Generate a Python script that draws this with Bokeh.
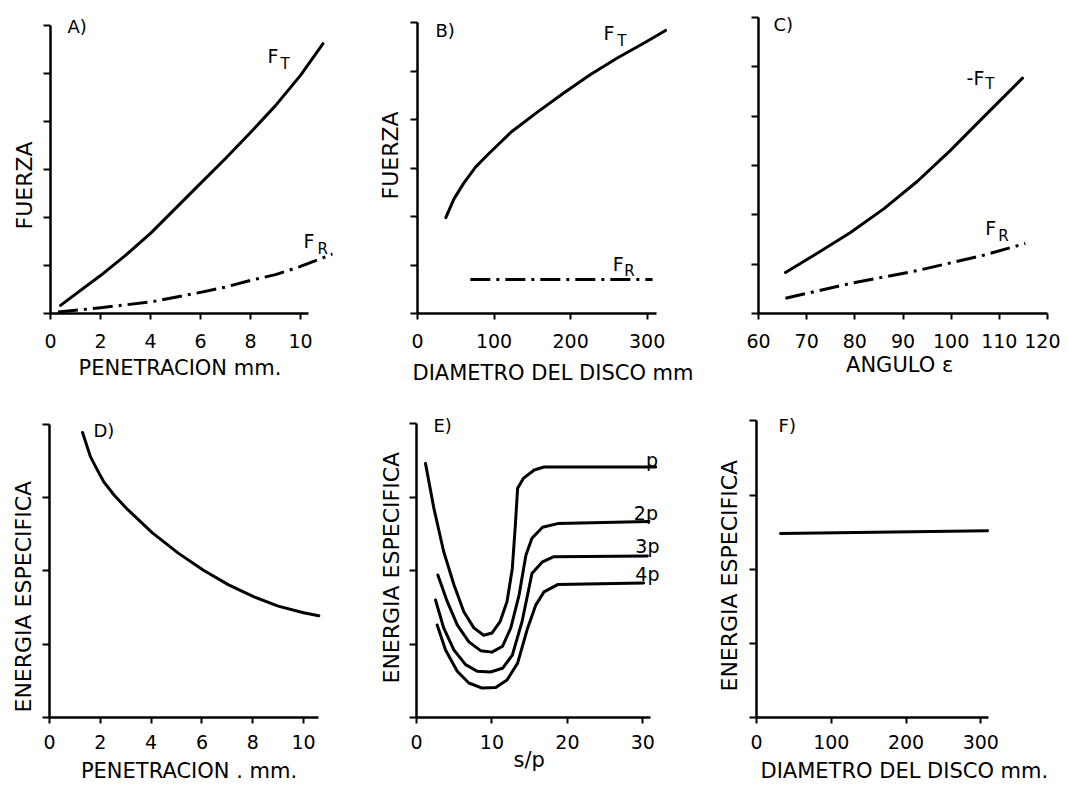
import math
from bokeh.plotting import figure
from bokeh.layouts import row, column
from bokeh.models import Range1d, FixedTicker, Label, CustomJSTickFormatter, Title
from bokeh.embed import file_html
from bokeh.resources import INLINE

FONT = "DejaVu Sans"

# ---------------- data ----------------
# A) Fuerza vs penetracion
pen_a_t = [0.4, 2, 3, 4, 5, 6, 7, 8, 9, 10, 10.9]
ft_a = [0.17, 0.79, 1.21, 1.67, 2.19, 2.71, 3.23, 3.77, 4.33, 4.96, 5.62]
pen_a_r = [0.3, 2, 4, 6, 7, 8, 9, 10, 11.3]
fr_a = [0.03, 0.12, 0.24, 0.44, 0.55, 0.69, 0.81, 0.98, 1.24]
ticks_a = [0, 2, 4, 6, 8, 10]

# B) Fuerza vs diametro del disco
diam_b_t = [37, 47.5, 60, 75.8, 92, 122, 157, 191, 226, 261, 296, 324]
ft_b = [1.98, 2.36, 2.68, 3.02, 3.28, 3.74, 4.16, 4.55, 4.93, 5.27, 5.58, 5.84]
diam_b_r = [69, 307]
fr_b = [0.70, 0.70]
ticks_b = [0, 100, 200, 300]

# C) Fuerza vs angulo
ang_c_t = [65.6, 72.2, 79.1, 86.0, 93.0, 99.8, 106.7, 114.8]
ft_c = [0.83, 1.22, 1.64, 2.12, 2.68, 3.30, 3.98, 4.77]
ang_c_r = [65.6, 79.1, 93.0, 106.7, 115.4]
fr_c = [0.31, 0.61, 0.87, 1.18, 1.42]
ticks_c = [60, 70, 80, 90, 100, 110, 120]

# D) Energia especifica vs penetracion
pen_d = [1.3, 1.61, 1.88, 2.13, 2.53, 3.07, 4.05, 5.08, 6.06, 7.05, 8.03, 9.0, 10.0, 10.6]
esp_d = [3.89, 3.56, 3.38, 3.22, 3.04, 2.84, 2.52, 2.24, 2.01, 1.81, 1.65, 1.52, 1.43, 1.39]
ticks_d = [0, 2, 4, 6, 8, 10]

# E) Energia especifica vs s/p
sp_p = [1.19, 2.3, 3.6, 4.95, 6.27, 7.6, 8.9, 10.0, 11.1, 12.0, 12.7, 13.1, 13.4, 14.2, 15.6, 16.9, 31.7]
e_p = [3.46, 2.85, 2.26, 1.81, 1.44, 1.22, 1.12, 1.15, 1.31, 1.58, 2.03, 2.62, 3.12, 3.26, 3.37, 3.41, 3.41]
sp_2p = [2.83, 4.07, 5.4, 6.94, 8.5, 10.0, 11.4, 12.5, 13.6, 14.5, 15.3, 16.7, 18.7, 30.8]
e_2p = [1.94, 1.58, 1.26, 1.03, 0.91, 0.89, 0.97, 1.22, 1.67, 2.21, 2.44, 2.59, 2.64, 2.67]
sp_3p = [2.52, 3.6, 4.95, 6.5, 8.05, 9.8, 11.4, 12.7, 14.0, 14.9, 15.3, 16.7, 18.2, 30.6]
e_3p = [1.6, 1.22, 0.92, 0.72, 0.63, 0.62, 0.67, 0.85, 1.31, 1.76, 1.96, 2.12, 2.19, 2.2]
sp_4p = [2.74, 3.85, 5.4, 6.94, 8.7, 10.5, 12.0, 13.4, 14.7, 15.8, 16.9, 18.7, 30.1]
e_4p = [1.26, 0.92, 0.63, 0.47, 0.40, 0.41, 0.51, 0.74, 1.21, 1.53, 1.71, 1.81, 1.83]
ticks_e = [0, 10, 20, 30]

# F) Energia especifica vs diametro del disco
diam_f = [32, 309]
esp_f = [2.48, 2.52]
ticks_f = [0, 100, 200, 300]


def make_fig(width, height, xr, yr, borders, xticks, yticks, xbounds, ybounds, xstand):
    left, right, top, bottom = borders
    p = figure(width=width, height=height, x_range=Range1d(*xr), y_range=Range1d(*yr),
               output_backend="svg", toolbar_location=None,
               min_border_left=left, min_border_right=right,
               min_border_top=top, min_border_bottom=bottom)
    p.grid.visible = False
    p.outline_line_color = None
    p.background_fill_color = "white"
    p.border_fill_color = "white"
    p.xaxis.ticker = FixedTicker(ticks=xticks)
    p.yaxis.ticker = FixedTicker(ticks=yticks)
    p.xaxis.bounds = xbounds
    p.yaxis.bounds = ybounds
    for ax in p.axis:
        ax.axis_line_color = "black"
        ax.axis_line_width = 2.5
        ax.major_tick_line_color = "black"
        ax.major_tick_line_width = 2
        ax.major_tick_in = 0
        ax.minor_tick_in = 0
        ax.minor_tick_out = 0
        ax.major_label_text_font = FONT
        ax.major_label_text_color = "black"
        ax.major_label_text_font_size = "19px"
    p.xaxis.major_tick_out = 6
    p.xaxis.major_label_standoff = xstand
    p.yaxis.major_tick_out = 7
    p.yaxis.major_label_standoff = 0
    p.yaxis.formatter = CustomJSTickFormatter(code="return ''")
    return p


def lab(p, x, y, text, size=20):
    p.add_layout(Label(x=x, y=y, text=text, text_font=FONT, text_font_size=f"{size}px",
                       text_color="black", text_align="left", text_baseline="middle"))


def side_title(p, text, side, align, offset, standoff, size):
    p.add_layout(Title(text=text, align=align, offset=offset, standoff=standoff,
                       text_font=FONT, text_font_size=f"{size}px", text_font_style="normal",
                       text_color="black"), side)


def solid(p, xs, ys):
    p.line(xs, ys, line_color="black", line_width=3, line_join="round", line_cap="round")


def dashdot(p, xs, ys):
    p.line(xs, ys, line_color="black", line_width=3, line_dash="20 6 3 6", line_join="round")


TOP_H = 394
BOT_H = 393

# ---- A ----  (canvas x 0..366)
pa = make_fig(366, TOP_H, (0, 11.28), (0, 6.27), (50, 34, 12, 81), ticks_a, list(range(7)), (0, 10.3), (0, 6), 14)
solid(pa, pen_a_t, ft_a)
dashdot(pa, pen_a_r, fr_a)
lab(pa, 0.68, 5.98, "A)", 18)
lab(pa, 8.68, 5.37, "F", 19)
lab(pa, 9.2, 5.2, "T", 15)
lab(pa, 10.12, 1.52, "F", 19)
lab(pa, 10.68, 1.35, "R", 15)
side_title(pa, "FUERZA", "left", "left", 84, 13, 22)
side_title(pa, "PENETRACION  mm.", "below", "left", 28, 6, 21)

# ---- B ----  (canvas x 366..715)
pb = make_fig(349, TOP_H, (0, 337), (0, 6.21), (51, 40, 12, 81), ticks_b, list(range(7)), (0, 312), (0, 6), 14)
solid(pb, diam_b_t, ft_b)
dashdot(pb, diam_b_r, fr_b)
lab(pb, 23.5, 5.84, "B)", 18)
lab(pb, 243, 5.78, "F", 19)
lab(pb, 261, 5.62, "T", 15)
lab(pb, 255, 1.03, "F", 19)
lab(pb, 270, 0.87, "R", 15)
side_title(pb, "FUERZA", "left", "left", 114, 15, 22)
side_title(pb, "DIAMETRO DEL DISCO mm", "below", "left", -5, 17, 21)

# ---- C ----  (canvas x 715..1060)
pc = make_fig(345, TOP_H, (60, 120), (0, 6.1), (43, 13, 12, 81), ticks_c, list(range(7)), (60, 120), (0, 6), 14)
solid(pc, ang_c_t, ft_c)
dashdot(pc, ang_c_r, fr_c)
lab(pc, 63.1, 5.86, "C)", 18)
lab(pc, 103.2, 4.77, "-F", 19)
lab(pc, 107.1, 4.65, "T", 15)
lab(pc, 107.1, 1.74, "F", 19)
lab(pc, 109.8, 1.58, "R", 15)
side_title(pc, "ANGULO  \u03b5", "below", "center", 0, 0, 21)

# ---- D ----  (canvas x 0..368)
pd_ = make_fig(368, BOT_H, (0, 10.98), (0, 4.19), (49, 40, 16, 70), ticks_d, list(range(5)), (0, 10.6), (0, 4), 11)
solid(pd_, pen_d, esp_d)
lab(pd_, 1.73, 3.92, "D)", 18)
side_title(pd_, "ENERGIA ESPECIFICA", "left", "left", 5, 13, 22)
side_title(pd_, "PENETRACION . mm.", "below", "center", 0, 10, 21)

# ---- E ----  (canvas x 368..704)
pe = make_fig(336, BOT_H, (0, 33.0), (0, 4.18), (48, 39, 16, 70), ticks_e, list(range(5)), (0, 31), (0, 4), 11)
for xs, ys in ((sp_p, e_p), (sp_2p, e_2p), (sp_3p, e_3p), (sp_4p, e_4p)):
    solid(pe, xs, ys)
lab(pe, 2.25, 3.97, "E)", 18)
lab(pe, 30.4, 3.5, "p", 19)
lab(pe, 28.8, 2.79, "2p", 19)
lab(pe, 29.0, 2.33, "3p", 19)
lab(pe, 29.0, 1.96, "4p", 19)
side_title(pe, "ENERGIA ESPECIFICA", "left", "left", 34, 12, 22)
side_title(pe, "s/p", "below", "left", 97, -11, 21)

# ---- F ----  (canvas x 704..1060)
pf = make_fig(356, BOT_H, (0, 329), (0, 4.14), (52, 58, 16, 70), ticks_f, list(range(5)), (0, 310), (0, 4), 11)
solid(pf, diam_f, esp_f)
lab(pf, 29.5, 3.94, "F)", 18)
side_title(pf, "ENERGIA  ESPECIFICA", "left", "left", 26, 16, 22)
side_title(pf, "DIAMETRO DEL DISCO mm.", "below", "left", 4, 10, 21)

layout = column(row(pa, pb, pc), row(pd_, pe, pf))
open("out.html", "w").write(file_html(layout, INLINE))
